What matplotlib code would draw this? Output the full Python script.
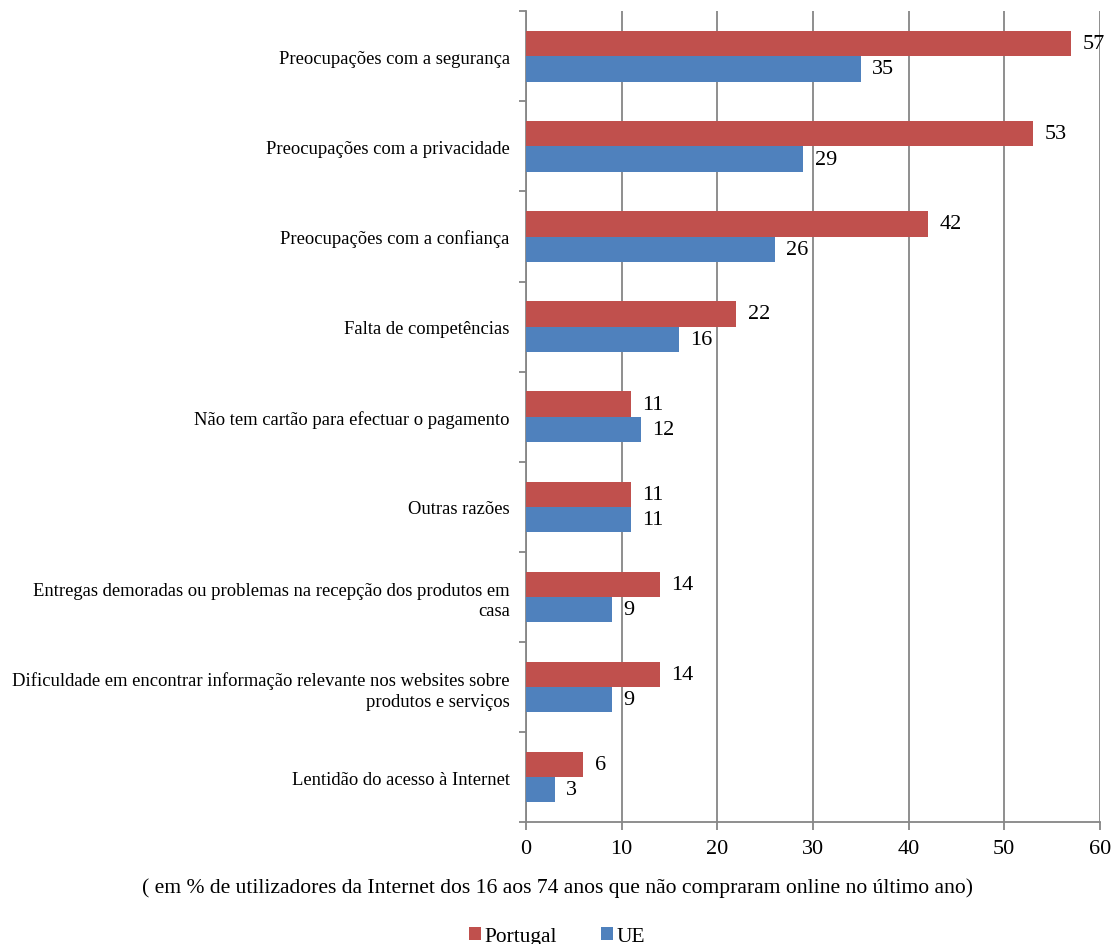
import numpy as np
import matplotlib.pyplot as plt

plt.rcParams['font.family'] = ['Liberation Serif', 'DejaVu Serif']

categories = [
    'Preocupações com a segurança',
    'Preocupações com a privacidade',
    'Preocupações com a confiança',
    'Falta de competências',
    'Não tem cartão para efectuar o pagamento',
    'Outras razões',
    'Entregas demoradas ou problemas na recepção dos produtos em\ncasa',
    'Dificuldade em encontrar informação relevante nos websites sobre\nprodutos e serviços',
    'Lentidão do acesso à Internet',
]
portugal = [57, 53, 42, 22, 11, 11, 14, 14, 6]
ue = [35, 29, 26, 16, 12, 11, 9, 9, 3]

red = '#C0504D'
blue = '#4F81BD'
grey = '#868686'

fig = plt.figure(figsize=(11.14, 9.45), dpi=100)
ax = fig.add_axes([0.472, 0.129, 0.5154, 0.858])

n = len(categories)
y = np.arange(n)
h = 0.28

ax.barh(y - h / 2, portugal, height=h, color=red, label='Portugal', zorder=3)
ax.barh(y + h / 2, ue, height=h, color=blue, label='UE', zorder=3)

for yi, v in zip(y - h / 2, portugal):
    ax.text(v + 1.2, yi, str(v), va='center', ha='left', fontsize=16, zorder=4)
for yi, v in zip(y + h / 2, ue):
    ax.text(v + 1.2, yi, str(v), va='center', ha='left', fontsize=16, zorder=4)

ax.set_xlim(0, 60)
ax.set_ylim(n - 0.5, -0.5)
ax.set_xticks(np.arange(0, 61, 10))
ax.tick_params(axis='x', labelsize=16, color=grey, width=1.3, length=6, pad=6)

ax.set_yticks(y)
ax.set_yticklabels(categories, fontsize=13.4, ha='right', linespacing=1.25)
ax.tick_params(axis='y', which='major', length=0, pad=11.5)
ax.set_yticks(np.arange(-0.5, n, 1), minor=True)
ax.tick_params(axis='y', which='minor', length=5, color=grey, width=1.3)

ax.grid(axis='x', color=grey, linewidth=1.3, zorder=0)
for side in ['top', 'right']:
    ax.spines[side].set_visible(False)
for side in ['left', 'bottom']:
    ax.spines[side].set_color(grey)
    ax.spines[side].set_linewidth(1.3)

fig.text(0.5, 0.060, '( em % de utilizadores da Internet dos 16 aos 74 anos que não compraram online no último ano)',
         ha='center', va='center', fontsize=15.6)

fig.legend(loc='center', bbox_to_anchor=(0.5, 0.008), ncol=2, frameon=False,
           fontsize=15.4, handlelength=0.55, handleheight=0.55, handletextpad=0.15,
           columnspacing=2.1, borderpad=0)

fig.savefig('out.png', dpi=100)
